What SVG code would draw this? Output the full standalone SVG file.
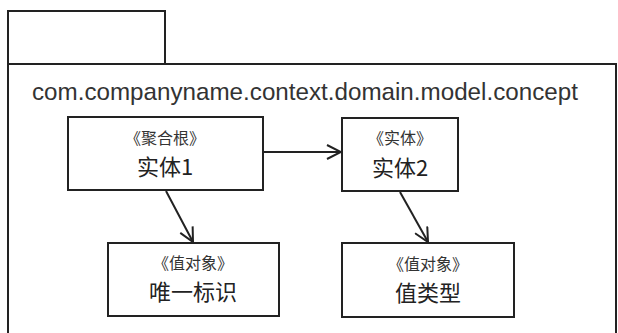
<svg xmlns="http://www.w3.org/2000/svg" width="618" height="333" viewBox="0 0 618 333">
<style>
.box{fill:#fff;stroke:#222;stroke-width:2}
.frame{fill:none;stroke:#222;stroke-width:2}
.st{font-family:"Noto Sans CJK SC","Liberation Sans",sans-serif;font-size:16px;fill:#333;text-anchor:middle}
.nm{font-family:"Noto Sans CJK SC","Liberation Sans",sans-serif;font-size:22px;fill:#222;text-anchor:middle}
.pkg{font-family:"Liberation Sans",Arial,sans-serif;font-size:24.2px;fill:#333}
.conn{fill:none;stroke:#222;stroke-width:2}
</style>
<defs>
<marker id="arr" viewBox="0 0 16 16" refX="15" refY="8" markerWidth="16" markerHeight="16" markerUnits="userSpaceOnUse" orient="auto">
<path d="M1,1 L15,8 L1,15" fill="none" stroke="#222" stroke-width="2"/>
</marker>
</defs>
<rect width="618" height="333" fill="#fff"/>
<g id="package">
<rect class="frame" x="8" y="11" width="157" height="53"/>
<rect class="frame" x="8" y="64" width="608" height="290"/>
<text class="pkg" x="32" y="100">com.companyname.context.domain.model.concept</text>
</g>
<g id="connectors">
<line class="conn" x1="263" y1="152" x2="341" y2="152" marker-end="url(#arr)"/>
<line class="conn" x1="166" y1="191" x2="193" y2="242" marker-end="url(#arr)"/>
<line class="conn" x1="400" y1="192" x2="428" y2="242" marker-end="url(#arr)"/>
</g>
<g id="entity1">
<rect class="box" x="68" y="117" width="195" height="73"/>
<text class="st" x="165" y="144">《聚合根》</text>
<text class="nm" x="165" y="175">实体1</text>
</g>
<g id="entity2">
<rect class="box" x="342" y="118" width="116" height="73"/>
<text class="st" x="400" y="144">《实体》</text>
<text class="nm" x="400" y="176">实体2</text>
</g>
<g id="identity">
<rect class="box" x="108" y="243" width="171" height="73"/>
<text class="st" x="193" y="269">《值对象》</text>
<text class="nm" x="193" y="300">唯一标识</text>
</g>
<g id="valuetype">
<rect class="box" x="342" y="243" width="172" height="74"/>
<text class="st" x="428" y="270">《值对象》</text>
<text class="nm" x="428" y="301">值类型</text>
</g>
</svg>
